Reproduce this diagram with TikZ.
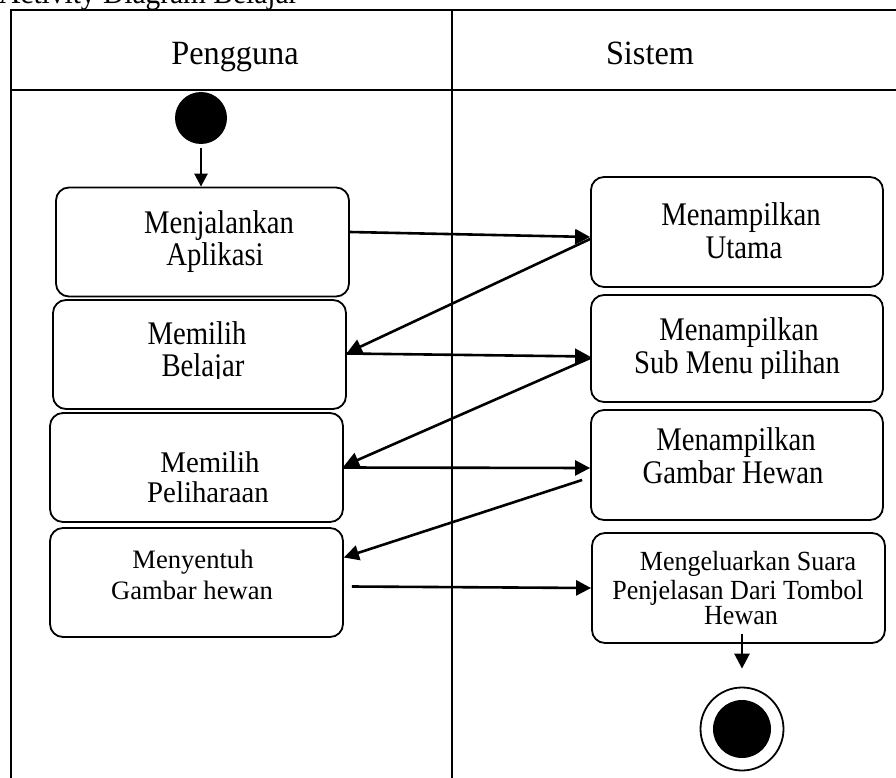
\documentclass[tikz,border=0pt]{standalone}
\usepackage{fontspec}
\setmainfont{Liberation Serif}
\usetikzlibrary{arrows.meta,calc}
\tikzset{
  actbox/.style={draw, line width=1.8pt, rounded corners=13pt, inner sep=0pt, minimum width=293pt, minimum height=109pt},
  lbl/.style={anchor=base, inner sep=0pt},
  fA/.style={font=\fontsize{33}{36}\selectfont\addfontfeature{FakeStretch=0.87}},
  fB/.style={font=\fontsize{30}{34}\selectfont\addfontfeature{FakeStretch=0.96}},
  fC/.style={font=\fontsize{26.6}{30}\selectfont},
  fD/.style={font=\fontsize{27.7}{30}\selectfont\addfontfeature{FakeStretch=0.94}},
  fH/.style={font=\fontsize{34}{36}\selectfont\addfontfeature{FakeStretch=0.95}},
  arr/.style={line width=2.6pt, -{Triangle[length=15pt,width=15pt]}},
  frame/.style={line width=1.8pt},
}
\begin{document}
\begin{tikzpicture}[x=1pt,y=-1pt]
\useasboundingbox (0,0) rectangle (896,778);
% title (mostly above the page)
\node[lbl, anchor=base west, font=\fontsize{32}{36}\selectfont\addfontfeature{FakeStretch=0.92}] (title) at (-1,4) {Activity Diagram Belajar};
% swimlane frame
\draw[frame] (11,778) -- (11,10) -- (900,10);
\draw[frame] (11,90) -- (900,90);
\draw[line width=1.6pt] (452,10) -- (452,778);
\node[lbl, fH] (hp) at (235,65) {Pengguna};
\node[lbl, fH] (hs) at (650,65) {Sistem};
% start / end
\node[circle, fill=black, minimum size=52pt, inner sep=0pt] (s) at (201,118) {};
\node[circle, draw, line width=1.8pt, minimum size=83pt, inner sep=0pt] (e) at (742,729) {};
\node[circle, fill=black, minimum size=58pt, inner sep=0pt] (ei) at (742,729) {};
% boxes
\node[actbox] (b1) at (202.5,242) {};
\node[actbox] (b2) at (199.5,354.5) {};
\node[actbox] (b3) at (196.5,467.5) {};
\node[actbox] (b4) at (196.5,582.5) {};
\node[actbox, minimum width=292pt, minimum height=110pt] (r1) at (737,232) {};
\node[actbox, minimum width=292pt, minimum height=107pt] (r2) at (737,348.5) {};
\node[actbox, minimum width=292pt, minimum height=110pt] (r3) at (737,465) {};
\node[actbox, minimum width=293pt, minimum height=110pt] (r4) at (738.5,588) {};
% texts
\node[lbl, fA] (t1a) at (219,233) {Menjalankan};
\node[lbl, fA] (t1b) at (215,265) {Aplikasi};
\begin{scope}
\clip (0,290) rectangle (896,378);
\node[lbl, fA] (t2a) at (197,344) {Memilih};
\node[lbl, fA] (t2b) at (203,376) {Belajar};
\node[lbl, fA] (u2a) at (739,340) {Menampilkan};
\node[lbl, fA] (u2b) at (737,373) {Sub Menu pilihan};
\end{scope}
\node[lbl, fB] (t3a) at (210,472) {Memilih};
\node[lbl, fB] (t3b) at (208,502) {Peliharaan};
\node[lbl, fC] (t4a) at (193,568) {Menyentuh};
\node[lbl, fC] (t4b) at (192,599) {Gambar hewan};
\node[lbl, fA] (u1a) at (741,225) {Menampilkan};
\node[lbl, fA] (u1b) at (744,258) {Utama};
\node[lbl, fA] (u3a) at (736,450) {Menampilkan};
\node[lbl, fA] (u3b) at (733,483) {Gambar Hewan};
\node[lbl, fD] (u4a) at (748,570) {Mengeluarkan Suara};
\node[lbl, fD] (u4b) at (738,599) {Penjelasan Dari Tombol};
\node[lbl, fD] (u4c) at (741,624) {Hewan};
% connectors
\draw[arr, -{Triangle[length=13pt,width=13pt]}] ($(s.south)+(0,4)$) -- (s.south |- b1.north);
\draw[arr] ([yshift=10pt]b1.east) -- ([yshift=-5pt]r1.west);
\draw[arr] ([yshift=-7pt]r1.west) -- ([yshift=1.5pt]b2.east);
\draw[arr] ([yshift=1pt]b2.east) -- ([yshift=-8pt]r2.west);
\draw[arr] ([yshift=-9.5pt]r2.west) -- ([yshift=1.5pt]b3.east);
\draw[arr] (b3.east) -- ([yshift=-3pt]r3.west);
\draw[arr] ([xshift=-8pt,yshift=-15pt]r3.west) -- ([yshift=25pt]b4.east);
\draw[arr] ([xshift=8pt,yshift=-4pt]b4.east) -- (r4.west);
\draw[arr] ($(e.north |- r4.south)+(0,-10)$) -- ($(e.north)+(0,-18)$);
\end{tikzpicture}
\end{document}
